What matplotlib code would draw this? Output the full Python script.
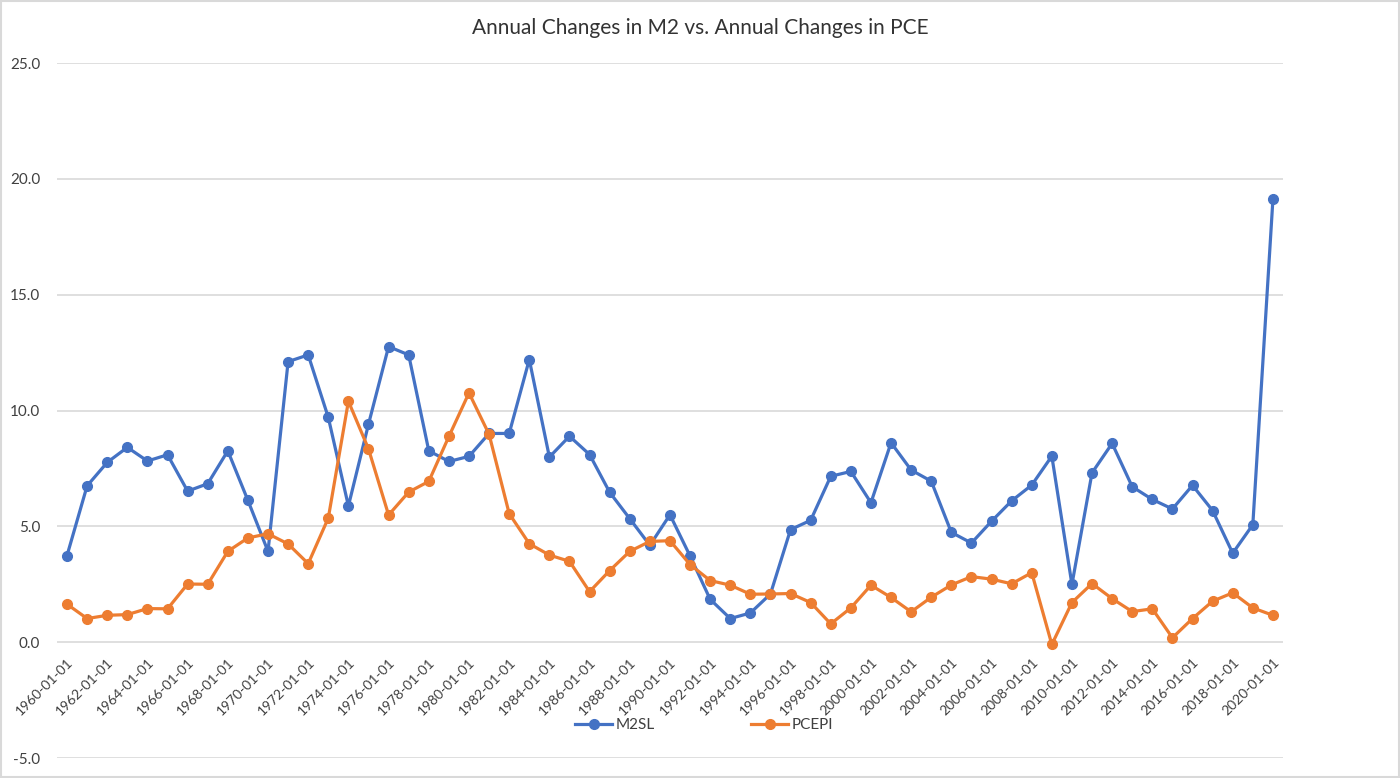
import matplotlib.pyplot as plt
from matplotlib.patches import Rectangle

plt.rcParams['font.family'] = ['Lato', 'DejaVu Sans']

years = list(range(1960, 2021))

m2sl = [3.74, 6.75, 7.76, 8.41, 7.82, 8.09, 6.52, 6.84, 8.26, 6.12,
        3.92, 12.11, 12.40, 9.70, 5.88, 9.41, 12.76, 12.40, 8.26, 7.80,
        8.02, 9.01, 9.01, 12.20, 7.99, 8.89, 8.10, 6.47, 5.33, 4.18,
        5.50, 3.72, 1.85, 1.02, 1.26, 2.08, 4.86, 5.26, 7.16, 7.37,
        6.02, 8.61, 7.43, 6.95, 4.74, 4.28, 5.22, 6.10, 6.78, 8.03,
        2.49, 7.31, 8.58, 6.71, 6.16, 5.75, 6.77, 5.68, 3.84, 5.07,
        19.11]

pcepi = [1.64, 1.02, 1.16, 1.19, 1.45, 1.44, 2.51, 2.50, 3.92, 4.50,
         4.68, 4.24, 3.39, 5.36, 10.40, 8.34, 5.49, 6.48, 6.94, 8.88,
         10.76, 8.97, 5.55, 4.25, 3.76, 3.49, 2.18, 3.09, 3.92, 4.35,
         4.38, 3.35, 2.66, 2.46, 2.07, 2.08, 2.10, 1.71, 0.79, 1.48,
         2.46, 1.93, 1.31, 1.94, 2.47, 2.83, 2.72, 2.52, 3.00, -0.10,
         1.71, 2.53, 1.88, 1.32, 1.44, 0.19, 1.02, 1.77, 2.13, 1.48,
         1.16]

tick_years = years[::2]
tick_labels = [f"{y}-01-01" for y in tick_years]

fig = plt.figure(figsize=(14, 7.78), dpi=100)
ax = fig.add_axes([0.0407, 0.0257, 0.8757, 0.8933])

# x axis labels sit on the 0 line, like Excel
for s in ax.spines.values():
    s.set_color('none')
ax.spines['bottom'].set_position(('data', 0))

ax.plot(years, m2sl, color='#4472C4', lw=2.3, marker='o', markersize=7, label='M2SL')
ax.plot(years, pcepi, color='#ED7D31', lw=2.3, marker='o', markersize=7, label='PCEPI')

ax.set_xlim(1959.5, 2020.5)
ax.set_ylim(-5, 25)
ax.set_yticks([-5, 0, 5, 10, 15, 20, 25])
ax.set_yticklabels([f"{v:.1f}" for v in [-5, 0, 5, 10, 15, 20, 25]])
ax.set_xticks(tick_years)
ax.set_xticklabels(tick_labels, rotation=45, ha='right', va='top', rotation_mode='anchor')

ax.grid(axis='y', color='#D9D9D9', lw=1.2)
ax.set_axisbelow(True)
ax.tick_params(axis='both', length=0, labelcolor='#404040')
ax.tick_params(axis='y', pad=12, labelsize=11)
ax.tick_params(axis='x', pad=10, labelsize=10)

ax.legend(loc='center', bbox_to_anchor=(0.528, 0.047), ncol=2, frameon=False,
          fontsize=11, handlelength=2.4, handletextpad=0.25, columnspacing=6.3,
          labelcolor='#404040')

fig.suptitle('Annual Changes in M2 vs. Annual Changes in PCE', y=0.977,
             fontsize=15, color='#333333')

fig.patches.append(Rectangle((0.001, 0.001), 0.998, 0.998, transform=fig.transFigure,
                             fill=False, edgecolor='#D9D9D9', lw=1.5))

fig.savefig('out.png', dpi=100)
